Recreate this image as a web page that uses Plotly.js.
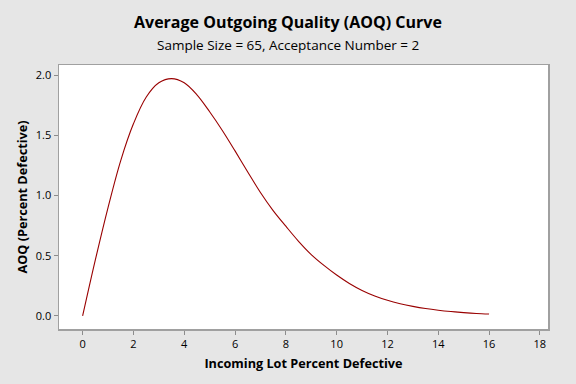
<!DOCTYPE html>
<html>
<head>
<meta charset="utf-8">
<script src="https://cdn.plot.ly/plotly-3.0.1.min.js"></script>
<style>
html,body{margin:0;padding:0;background:#e6e6e6;}
#chart{width:576px;height:384px;}
</style>
</head>
<body>
<div id="chart"></div>
<script>
// Incoming lot percent defective (x) and AOQ in percent defective (y)
var incomingPercent = [0, 0.5, 1, 1.5, 2, 2.5, 3, 3.5, 4, 4.5, 5, 5.5, 6, 6.5, 7, 7.5, 8,
  8.5, 9, 9.5, 10, 10.5, 11, 11.5, 12, 12.5, 13, 13.5, 14, 14.5, 15, 15.5, 16];
var aoqPercent = [0, 0.465, 0.90, 1.29, 1.595, 1.815, 1.935, 1.97, 1.935, 1.835, 1.695, 1.54, 1.37, 1.195, 1.025, 0.875, 0.745,
  0.62, 0.51, 0.42, 0.34, 0.27, 0.212, 0.166, 0.13, 0.102, 0.08, 0.062, 0.048, 0.037, 0.028, 0.021, 0.0165];
var xTicks = [0, 2, 4, 6, 8, 10, 12, 14, 16, 18];
var yTicks = [0.0, 0.5, 1.0, 1.5, 2.0];

var chartTitle = "Average Outgoing Quality (AOQ) Curve";
var chartSubtitle = "Sample Size = 65, Acceptance Number = 2";
var xTitle = "Incoming Lot Percent Defective";
var yTitle = "AOQ (Percent Defective)";

var font = "'Open Sans', 'Noto Sans', sans-serif";

var trace = {
  x: incomingPercent,
  y: aoqPercent,
  type: "scatter",
  mode: "lines",
  line: {color: "#990000", width: 1.1, shape: "spline", smoothing: 1},
  hoverinfo: "skip"
};

var layout = {
  width: 576,
  height: 384,
  paper_bgcolor: "#e6e6e6",
  plot_bgcolor: "#ffffff",
  margin: {l: 59, r: 28, t: 65, b: 55},
  showlegend: false,
  font: {family: font, color: "#000000"},
  xaxis: {
    range: [-0.93, 18.32],
    tickvals: xTicks,
    ticktext: xTicks.map(String),
    ticks: "outside",
    ticklen: 4,
    tickcolor: "#8c8c8c",
    tickfont: {size: 11, family: font, color: "#000"},
    showline: true,
    linecolor: "#a0a0a0",
    linewidth: 1.5,
    mirror: true,
    showgrid: false,
    zeroline: false,
    title: {text: "<b>" + xTitle + "</b>", font: {size: 12.7, family: font, color: "#000"}, standoff: 9}
  },
  yaxis: {
    range: [-0.108, 2.083],
    tickvals: yTicks,
    ticktext: yTicks.map(function(v){return v.toFixed(1);}),
    ticks: "outside",
    ticklen: 4,
    tickcolor: "#8c8c8c",
    tickfont: {size: 11, family: font, color: "#000"},
    showline: true,
    linecolor: "#a0a0a0",
    linewidth: 1.5,
    mirror: true,
    showgrid: false,
    zeroline: false,
    title: {text: "<b>" + yTitle + "</b>", font: {size: 12.7, family: font, color: "#000"}, standoff: 5}
  },
  annotations: [
    {text: "<b>" + chartTitle + "</b>", xref: "paper", yref: "paper", x: 0.5, y: 0, xanchor: "center", yanchor: "middle",
     showarrow: false, font: {size: 16, family: font, color: "#000"}},
    {text: chartSubtitle, xref: "paper", yref: "paper", x: 0.5, y: 0, xanchor: "center", yanchor: "middle",
     showarrow: false, font: {size: 13.5, family: font, color: "#000"}}
  ]
};

// Place titles in figure pixels (paper coordinates relative to plot area)
var plotH = 384 - 65 - 55;
var plotW = 576 - 59 - 28;
function yPaper(px){ return (384 - 55 - px) / plotH; }
function xPaper(px){ return (px - 59) / plotW; }
layout.annotations[0].x = xPaper(288); layout.annotations[0].y = yPaper(22);
layout.annotations[1].x = xPaper(288); layout.annotations[1].y = yPaper(45);

Plotly.newPlot("chart", [trace], layout, {displayModeBar: false, staticPlot: true});
</script>
</body>
</html>
